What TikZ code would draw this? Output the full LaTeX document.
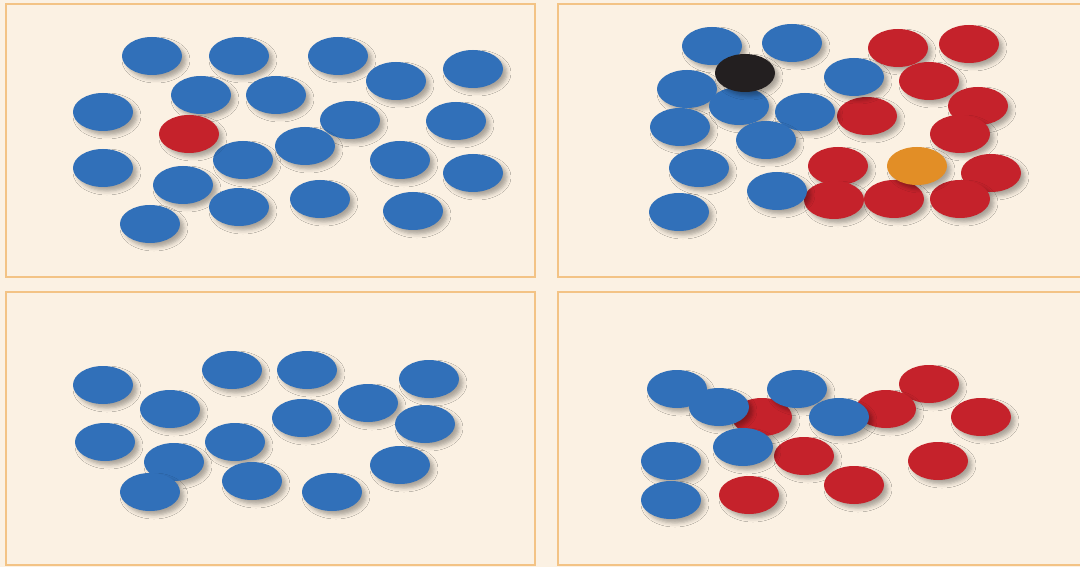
\documentclass[tikz,border=0pt]{standalone}
\usepackage{xcolor}
\usepackage{tikz}
\definecolor{cream}{HTML}{FBF1E3}
\definecolor{frame}{HTML}{F3C385}
\definecolor{chipblue}{HTML}{3170B9}
\definecolor{chipred}{HTML}{C5222B}
\definecolor{chipblack}{HTML}{231F20}
\definecolor{chiporange}{HTML}{E28E26}
\usetikzlibrary{shapes.geometric, shadows.blur}

\begin{document}
\begin{tikzpicture}[x=1pt, y=-1pt,
    chip/.style={ellipse, minimum width=60pt, minimum height=38pt, inner sep=0pt, fill=#1,
        blur shadow={shadow xshift=4pt, shadow yshift=-4pt, shadow blur radius=4pt, shadow opacity=32}},
    panel/.style={draw=frame, line width=2pt, fill=cream}]
    % Canvas
    \clip (0,0) rectangle (1080,567);
    \fill[cream] (0,0) rectangle (1080,567);

    % Panels
    \draw[panel] (6,4) rectangle (535,277);
    \draw[panel] (558,4) rectangle (1090,277);
    \draw[panel] (6,292) rectangle (535,565);
    \draw[panel] (558,292) rectangle (1090,565);

    % Top left: one red among blues
    \foreach \px/\py [count=\i] in {152/56, 239/56, 338/56, 396/81, 473/69, 201/95, 276/95, 103/112,
        350/120, 456/121, 305/146, 243/160, 103/168, 400/160, 473/173, 183/185, 239/207, 320/199,
        413/211, 150/224}
        \node[chip=chipblue] (tl\i) at (\px,\py) {};
    \node[chip=chipred] (tlred) at (189,134) {};

    % Top right: two groups, one black and one orange
    \foreach \px/\py [count=\i] in {898/48, 969/44, 929/81, 978/106, 867/116, 960/134, 838/166,
        991/173, 834/200, 894/199, 960/199}
        \node[chip=chipred] (trr\i) at (\px,\py) {};
    \foreach \px/\py [count=\i] in {792/43, 712/46, 854/77, 687/89, 739/106, 805/112, 680/127,
        766/140, 699/168, 777/191, 679/212}
        \node[chip=chipblue] (trb\i) at (\px,\py) {};
    \node[chip=chipblack] (trblack) at (745,73) {};
    \node[chip=chiporange] (trorange) at (917,166) {};

    % Bottom left: all blue
    \foreach \px/\py [count=\i] in {232/370, 307/370, 429/379, 103/385, 368/403, 170/409, 302/418,
        425/424, 105/442, 235/442, 174/462, 400/465, 252/481, 150/492, 332/492}
        \node[chip=chipblue] (bl\i) at (\px,\py) {};

    % Bottom right: mixed
    \foreach \px/\py [count=\i] in {929/384, 886/409, 762/417, 981/417, 804/456, 938/461, 854/485,
        749/495}
        \node[chip=chipred] (brr\i) at (\px,\py) {};
    \foreach \px/\py [count=\i] in {677/389, 797/389, 719/407, 839/417, 743/447, 671/461, 671/500}
        \node[chip=chipblue] (brb\i) at (\px,\py) {};
\end{tikzpicture}
\end{document}
